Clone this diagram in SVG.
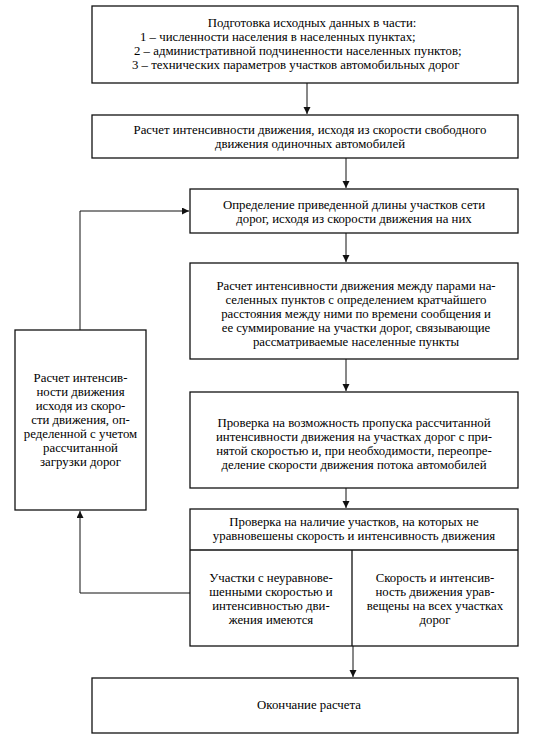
<svg xmlns="http://www.w3.org/2000/svg" width="534" height="735" viewBox="0 0 534 735">
<defs>
<style>
.box{fill:#fff;stroke:#111;stroke-width:1.3}
.ln{fill:none;stroke:#111;stroke-width:1}
text{font-family:"Liberation Serif","Times New Roman",serif;font-size:12.8px;fill:#000}
.c{text-anchor:middle}
</style>
<marker id="ah" markerUnits="userSpaceOnUse" markerWidth="8" markerHeight="8" refX="7" refY="3.5" orient="auto">
<path d="M0,0 L7,3.5 L0,7 z" fill="#111"/>
</marker>
</defs>
<rect width="534" height="735" fill="#fff"/>
<g id="connectors">
<path class="ln" d="M307,83 V114" marker-end="url(#ah)"/>
<path class="ln" d="M346,158 V188" marker-end="url(#ah)"/>
<path class="ln" d="M346,233 V262" marker-end="url(#ah)"/>
<path class="ln" d="M346,359 V391" marker-end="url(#ah)"/>
<path class="ln" d="M346,488 V508" marker-end="url(#ah)"/>
<path class="ln" d="M353,646 V677" marker-end="url(#ah)"/>
<path class="ln" d="M190,593 H80 V511" marker-end="url(#ah)"/>
<path class="ln" d="M80,330 V211 H189" marker-end="url(#ah)"/>
</g>
<g id="n1">
<rect class="box" x="92" y="6" width="426" height="77"/>
<text class="c" x="312" y="27">Подготовка исходных данных в части:</text>
<text x="140" y="41">1 – численности населения в населенных пунктах;</text>
<text x="134" y="55">2 – административной подчиненности населенных пунктов;</text>
<text x="132" y="69">3 – технических параметров участков автомобильных дорог</text>
</g>
<g id="n2">
<rect class="box" x="92" y="115" width="426" height="43"/>
<text class="c" x="310" y="134">Расчет интенсивности движения, исходя из скорости свободного</text>
<text class="c" x="310" y="148">движения одиночных автомобилей</text>
</g>
<g id="n3">
<rect class="box" x="190" y="189" width="328" height="44"/>
<text class="c" x="354" y="209">Определение приведенной длины участков сети</text>
<text class="c" x="354" y="223">дорог, исходя из скорости движения на них</text>
</g>
<g id="n4">
<rect class="box" x="190" y="263" width="328" height="96"/>
<text class="c" x="356" y="290">Расчет интенсивности движения между парами на-</text>
<text class="c" x="356" y="304">селенных пунктов с определением кратчайшего</text>
<text class="c" x="356" y="318">расстояния между ними по времени сообщения и</text>
<text class="c" x="356" y="332">ее суммирование на участки дорог, связывающие</text>
<text class="c" x="356" y="346">рассматриваемые населенные пункты</text>
</g>
<g id="n5">
<rect class="box" x="190" y="392" width="328" height="96"/>
<text class="c" x="354" y="427">Проверка на возможность пропуска рассчитанной</text>
<text class="c" x="354" y="441">интенсивности движения на участках дорог с при-</text>
<text class="c" x="354" y="455">нятой скоростью и, при необходимости, переопре-</text>
<text class="c" x="354" y="469">деление скорости движения потока автомобилей</text>
</g>
<g id="n6">
<rect class="box" x="190" y="509" width="328" height="137"/>
<path class="ln" d="M190,550 H518 M352,550 V646" style="stroke-width:1.3"/>
<text class="c" x="354" y="526">Проверка на наличие участков, на которых не</text>
<text class="c" x="354" y="540">уравновешены скорость и интенсивность движения</text>
</g>
<g id="n6a">
<text class="c" x="271" y="582">Участки с неуравнове-</text>
<text class="c" x="271" y="596">шенными скоростью и</text>
<text class="c" x="271" y="610">интенсивностью  дви-</text>
<text class="c" x="271" y="624">жения имеются</text>
</g>
<g id="n6b">
<text class="c" x="435" y="582">Скорость и интенсив-</text>
<text class="c" x="435" y="596">ность движения урав-</text>
<text class="c" x="435" y="610">вещены на всех участках</text>
<text class="c" x="435" y="624">дорог</text>
</g>
<g id="n7">
<rect class="box" x="92" y="678" width="426" height="55"/>
<text class="c" x="309" y="709">Окончание расчета</text>
</g>
<g id="n8">
<rect class="box" x="15" y="330" width="131" height="180"/>
<text class="c" x="80.5" y="382">Расчет интенсив-</text>
<text class="c" x="80.5" y="396">ности движения</text>
<text class="c" x="80.5" y="410">исходя из скоро-</text>
<text class="c" x="80.5" y="424">сти движения, оп-</text>
<text class="c" x="80.5" y="438">ределенной с учетом</text>
<text class="c" x="80.5" y="452">рассчитанной</text>
<text class="c" x="80.5" y="466">загрузки дорог</text>
</g>
</svg>
